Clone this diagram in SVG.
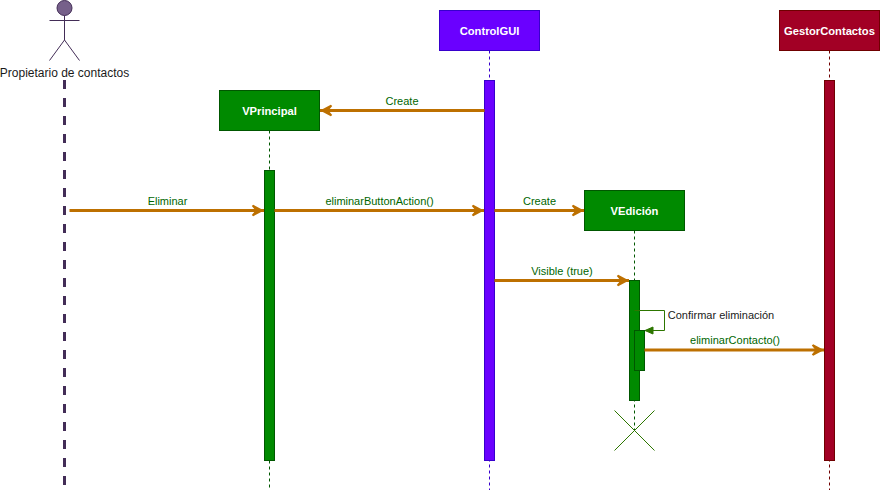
<svg xmlns="http://www.w3.org/2000/svg" width="880" height="493" viewBox="0 0 880 493">
<style>
text{font-family:"Liberation Sans",Arial,Helvetica,sans-serif;font-size:11px;text-anchor:middle}
.t{font-size:11.2px;font-weight:bold;fill:#fff}
.g{fill:#008a00;stroke:#005700}
.p{fill:#6a00ff;stroke:#3700cc}
.c{fill:#a20025;stroke:#6f0000}
.l{fill:none;stroke-dasharray:3 3}
.lg{stroke:#005700}.lp{stroke:#3700cc}.lc{stroke:#6f0000}
.m{fill:none;stroke:#bd7000;stroke-width:3;marker-end:url(#open)}
.mt{fill:#006600}
</style>
<defs>
<marker id="open" markerUnits="userSpaceOnUse" markerWidth="16" markerHeight="16" refX="14" refY="8" orient="auto" overflow="visible">
<path d="M1.8 3.6 L3.2 2.2 L14 8 L3.2 13.8 L1.8 12.4 L5.5 8 Z" fill="#bd7000"/>
</marker>
<marker id="block" markerUnits="userSpaceOnUse" markerWidth="10" markerHeight="10" refX="8" refY="5" orient="auto" overflow="visible">
<path d="M0 1.5 L8 5 L0 8.5 Z" fill="#2d7600" stroke="#2d7600"/>
</marker>
</defs>
<g id="actor">
<path d="M64.5 80V490" fill="none" stroke="#432d57" stroke-width="3" stroke-dasharray="9 9"/>
<circle cx="64.5" cy="8" r="7.5" fill="#76608a" stroke="#432d57"/>
<path d="M64.5 15.5V40M49.5 20.5H79.5M64.5 40L49.5 60.5M64.5 40L79.5 60.5" fill="none" stroke="#432d57"/>
<text x="64.5" y="77" fill="#1a1a1a" style="font-size:12px">Propietario de contactos</text>
</g>
<g id="vprincipal">
<path class="l lg" d="M269.5 130.5V490"/>
<rect class="g" x="219.5" y="90.5" width="100" height="40"/>
<text class="t" x="269.5" y="115">VPrincipal</text>
<rect class="g" x="264.5" y="170.5" width="10" height="290"/>
</g>
<g id="controlgui">
<path class="l lp" d="M489.5 50.5V490"/>
<rect class="p" x="439.5" y="10.5" width="100" height="40"/>
<text class="t" x="489.5" y="35">ControlGUI</text>
<rect class="p" x="484.5" y="80.5" width="10" height="380"/>
</g>
<g id="vedicion">
<path class="l lg" d="M634.5 230.5V430.5"/>
<rect class="g" x="584.5" y="190.5" width="100" height="40"/>
<text class="t" x="634.5" y="215">VEdición</text>
<rect class="g" x="629.5" y="280.5" width="10" height="120"/>
<rect class="g" x="634.5" y="330.5" width="10" height="40"/>
<path d="M614.5 410.5L654.5 450.5M654.5 410.5L614.5 450.5" fill="none" stroke="#2d7600"/>
</g>
<g id="gestorcontactos">
<path class="l lc" d="M829.5 50.5V490"/>
<rect class="c" x="779.5" y="10.5" width="100" height="40"/>
<text class="t" x="829.5" y="35">GestorContactos</text>
<rect class="c" x="824.5" y="80.5" width="10" height="380"/>
</g>
<g id="connectors">
<path class="m" d="M484.5 110.5H320"/>
<path class="m" d="M69.5 210.5H264"/>
<path class="m" d="M274.5 210.5H484"/>
<path class="m" d="M494.5 210.5H584"/>
<path class="m" d="M494.5 280.5H629"/>
<path class="m" d="M644.5 350H824"/>
<path d="M634.5 310.5H664.5V330.5H645" fill="none" stroke="#2d7600" marker-end="url(#block)"/>
</g>
<g id="labels">
<text class="mt" x="402" y="105">Create</text>
<text class="mt" x="167.5" y="205">Eliminar</text>
<text class="mt" x="379.5" y="205">eliminarButtonAction()</text>
<text class="mt" x="539.5" y="205">Create</text>
<text class="mt" x="562" y="275">Visible (true)</text>
<text x="721" y="319" fill="#1a1a1a">Confirmar eliminación</text>
<text class="mt" x="735" y="344">eliminarContacto()</text>
</g>
</svg>
